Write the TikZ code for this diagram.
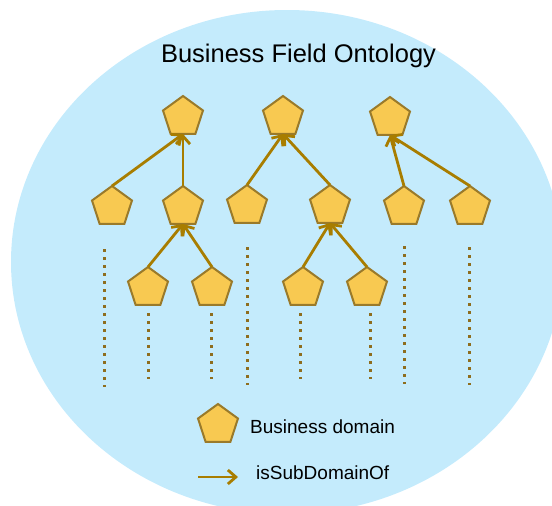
\documentclass[tikz,border=0pt]{standalone}
\usepackage{fontspec}
\setmainfont{Liberation Sans}
\usetikzlibrary{shapes.geometric,arrows.meta}
\definecolor{bgblue}{HTML}{C4EBFC}
\definecolor{pentfill}{HTML}{F8C951}
\definecolor{pentdraw}{HTML}{9A7A2A}
\definecolor{arrcol}{HTML}{A87D00}
\definecolor{dotcol}{HTML}{8E6D1E}
\tikzset{
  dom/.style={regular polygon, regular polygon sides=5, minimum size=42pt,
    inner sep=0pt, outer sep=0pt, fill=pentfill, draw=pentdraw, line width=2pt},
  arr/.style={draw=arrcol, line width=2.8pt,
    -{Straight Barb[length=8pt,width=14pt,line width=2.8pt]}},
  dotline/.style={draw=dotcol, line width=3pt, dash pattern=on 3pt off 5pt},
  lbl/.style={inner sep=0pt, anchor=base west, font=\fontsize{19}{22}\selectfont}
}
\begin{document}
\begin{tikzpicture}[x=1pt,y=-1pt]
\useasboundingbox (0,0) rectangle (552,506);
\clip (0,0) rectangle (552,506);
\fill[bgblue] (287,262) ellipse [x radius=276, y radius=252];
\node[inner sep=0pt, anchor=base, font=\fontsize{25.5}{30}\selectfont] (title) at (298.5,62) {Business Field Ontology};
% top row
\node[dom] (A1) at (183,117) {};
\node[dom] (A2) at (283,117) {};
\node[dom] (A3) at (390,118) {};
% second row
\node[dom] (B1) at (112,207) {};
\node[dom] (B2) at (183,207) {};
\node[dom] (B3) at (247,206) {};
\node[dom] (B4) at (330,206) {};
\node[dom] (B5) at (404,207) {};
\node[dom] (B6) at (470,207) {};
% third row
\node[dom] (C1) at (148,288) {};
\node[dom] (C2) at (212,288) {};
\node[dom] (C3) at (303,288) {};
\node[dom] (C4) at (367,288) {};
% edges
\draw[arr] (B1.corner 1) -- (A1.south);
\draw[arr] (B2.corner 1) -- (A1.south);
\draw[arr] (C1.corner 1) -- (B2.south);
\draw[arr] (C2.corner 1) -- (B2.south);
\draw[arr] (B3.corner 1) -- (A2.south);
\draw[arr] (B4.corner 1) -- (A2.south);
\draw[arr] (C3.corner 1) -- (B4.south);
\draw[arr] (C4.corner 1) -- (B4.south);
\draw[arr] (B5.corner 1) -- (A3.south);
\draw[arr] (B6.corner 1) -- (A3.south);
% dotted continuations
\coordinate (d1a) at (104,249); \coordinate (d1b) at (104,387);
\coordinate (d2a) at (148,313); \coordinate (d2b) at (148,379);
\coordinate (d3a) at (211,313); \coordinate (d3b) at (211,379);
\coordinate (d4a) at (247,247); \coordinate (d4b) at (247,385);
\coordinate (d5a) at (300,313); \coordinate (d5b) at (300,379);
\coordinate (d6a) at (370,313); \coordinate (d6b) at (370,379);
\coordinate (d7a) at (404,246); \coordinate (d7b) at (404,384);
\coordinate (d8a) at (469,247); \coordinate (d8b) at (469,385);
\foreach \i in {1,...,8} {\draw[dotline] (d\i a) -- (d\i b);}
% legend
\node[dom] (L1) at (218,425) {};
\node[lbl] (L1t) at (250,433) {Business domain};
\coordinate (L2a) at (198,477);
\coordinate (L2b) at (238,477);
\draw[arr] (L2a) -- (L2b);
\node[lbl] (L2t) at (256,479) {isSubDomainOf};
\end{tikzpicture}
\end{document}
